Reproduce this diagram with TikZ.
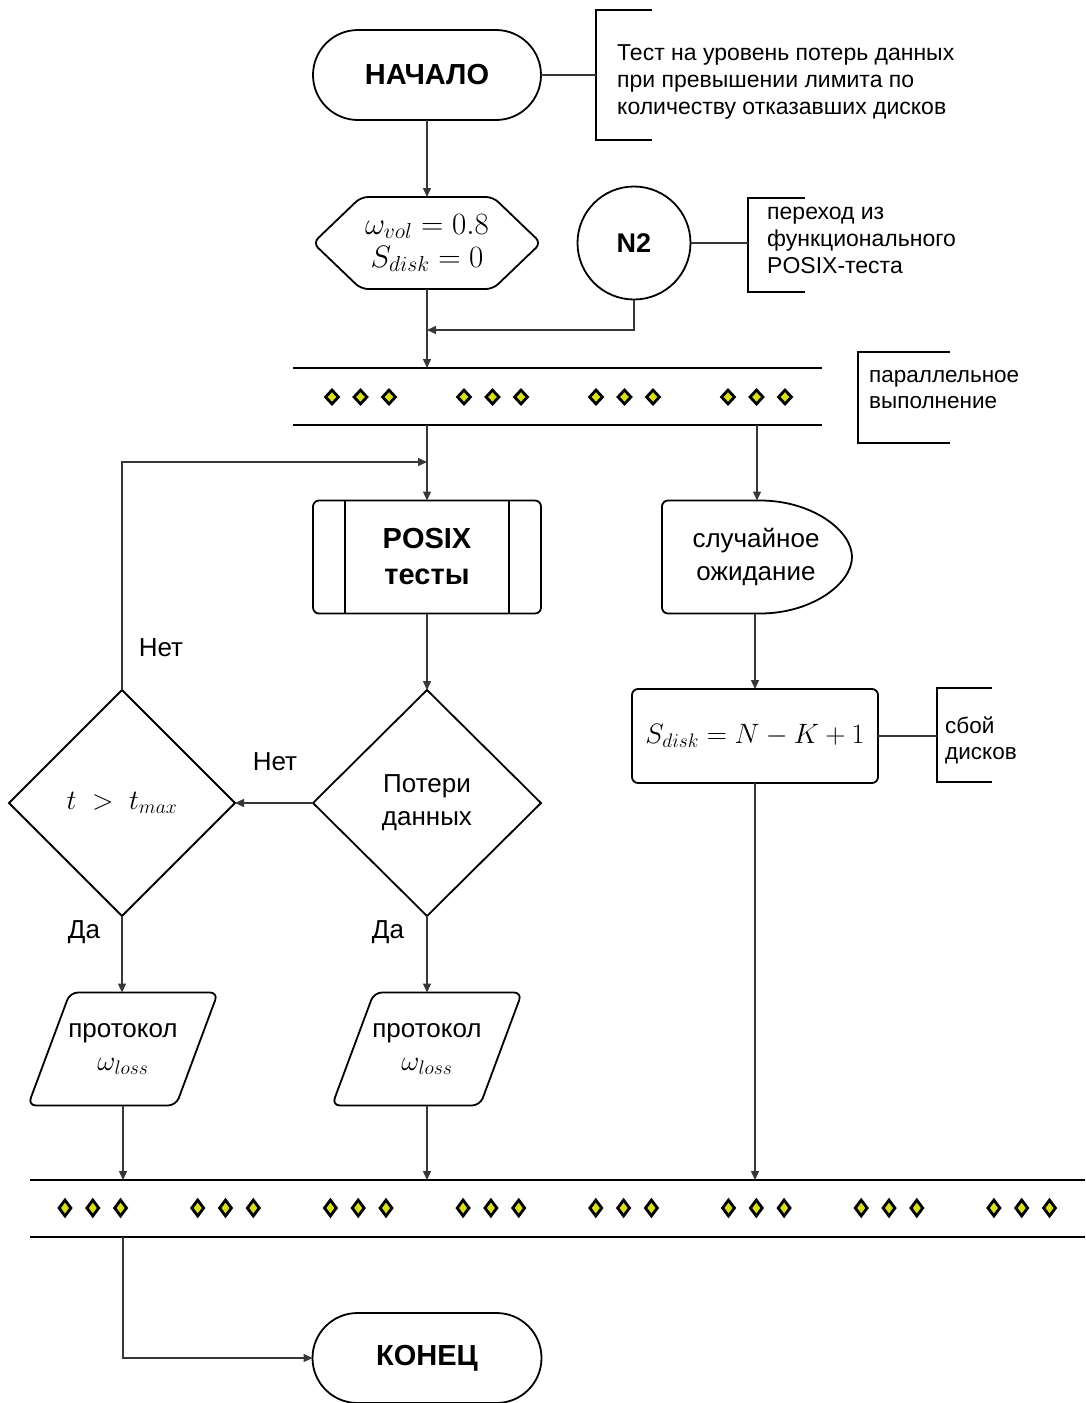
\RequirePackage{fix-cm}
\documentclass[tikz,border=0pt]{standalone}
\usepackage{fontspec}
\setmainfont{Liberation Sans}
\usetikzlibrary{shapes.misc,shapes.geometric,arrows.meta,calc}
\definecolor{dotfill}{RGB}{214,222,30}
\definecolor{conn}{RGB}{55,55,55}
\begin{document}
\begin{tikzpicture}[x=1pt,y=-1pt,
  shp/.style={draw=black, line width=1.8pt},
  conline/.style={draw=conn, line width=1.4pt},
  arr/.style={conline, -{Triangle[length=9pt,width=8pt]}},
  bar/.style={draw=black, line width=2.8pt},
  brk/.style={draw=black, line width=2.2pt},
  body/.style={font=\fontsize{26}{33}\selectfont, align=center, inner sep=0pt, outer sep=0pt},
  mathtxt/.style={font=\fontsize{28}{36}\selectfont, align=center, inner sep=0pt, outer sep=0pt},
  boldtxt/.style={font=\bfseries\fontsize{29}{36}\selectfont, align=center, inner sep=0pt, outer sep=0pt},
  ann/.style={font=\fontsize{23}{27}\selectfont, align=left, anchor=west, inner sep=0pt},
  anns/.style={font=\fontsize{22.5}{26}\selectfont, align=left, anchor=west, inner sep=0pt},
  lbl/.style={font=\fontsize{26}{30}\selectfont, inner sep=0pt},
  dotA/.style={diamond, draw=black, fill=dotfill, line width=2.8pt, minimum width=14pt, minimum height=15pt, inner sep=0pt},
  dotB/.style={diamond, draw=black, fill=dotfill, line width=2.8pt, minimum width=13pt, minimum height=17pt, inner sep=0pt},
  ghost/.style={inner sep=0pt, outer sep=0pt, draw=none}
]
\useasboundingbox (0,0) rectangle (1085,1403);

% ---- start
\node[shp, rounded rectangle, minimum width=228pt, minimum height=90pt, boldtxt] (start) at (427,75) {НАЧАЛО};
\draw[brk] (652,10) -- (596,10) -- (596,140) -- (652,140);
\coordinate (b1) at (596,75);
\draw[conline] (start.east) -- (b1 |- start.east);
\node[ann] (t1) at (617,82) {Тест на уровень потерь данных\\при превышении лимита по\\количеству отказавших дисков};

% ---- hexagon
\node[ghost, minimum width=228pt, minimum height=92pt, mathtxt, font=\fontsize{31}{33}\selectfont] (hex) at (427,243) {$\omega_{vol} = 0.8$\\$S_{disk} = 0$};
\draw[shp, rounded corners=7pt] (hex.west) -- ([xshift=48pt]hex.north west) -- ([xshift=-48pt]hex.north east) -- (hex.east) -- ([xshift=-48pt]hex.south east) -- ([xshift=48pt]hex.south west) -- cycle;

% ---- N2
\node[shp, circle, minimum size=113pt, boldtxt, font=\bfseries\fontsize{27}{30}\selectfont] (n2) at (634,243) {N2};
\draw[brk] (805,198) -- (748,198) -- (748,292) -- (805,292);
\coordinate (b2) at (748,243);
\draw[conline] (n2.east) -- (b2);
\node[ann] (t2) at (767,240) {переход из\\функционального\\POSIX-теста};

% ---- fork 1
\node[ghost, minimum width=529pt, minimum height=57pt] (fork1) at (557.5,396.5) {};
\draw[bar] (fork1.north west) -- (fork1.north east);
\draw[bar] (fork1.south west) -- (fork1.south east);
\foreach \g in {0,...,3}
  \foreach \k in {0,1,2}
    \node[dotA] (pa\g\k) at ({332+132*\g+28.5*\k},397) {};
\draw[brk] (950,352) -- (858,352) -- (858,443) -- (950,443);
\node[anns] (t3) at (869,390) {параллельное\\выполнение};

\draw[arr] (start.south) -- (hex.north);
\draw[arr] (hex.south) -- (hex.south |- fork1.north);
\coordinate (m1) at (427,330);
\draw[arr] (n2.south) |- (m1);

% ---- POSIX tests
\node[shp, rectangle, rounded corners=6pt, minimum width=228pt, minimum height=113pt, boldtxt] (posix) at (427,557) {POSIX\\тесты};
\draw[shp] ([xshift=32pt]posix.north west) -- ([xshift=32pt]posix.south west);
\draw[shp] ([xshift=-32pt]posix.north east) -- ([xshift=-32pt]posix.south east);

% ---- delay
\node[ghost, minimum width=190pt, minimum height=113pt] (delay) at (757,557) {};
\node[body] (delaytxt) at (756,557) {случайное\\ожидание};
\draw[shp] ([xshift=98pt]delay.north west) -- ([xshift=6pt]delay.north west) arc[start angle=90, end angle=180, radius=6pt] -- ([yshift=6pt]delay.south west) arc[start angle=180, end angle=270, radius=6pt] -- ([xshift=98pt]delay.south west) .. controls ([xshift=-40pt,yshift=0pt]delay.south east) and ([yshift=30pt]delay.south east) .. (delay.east) .. controls ([yshift=-30pt]delay.north east) and ([xshift=-40pt]delay.north east) .. ([xshift=98pt]delay.north west) -- cycle;

\draw[arr] (posix.north |- fork1.south) -- (posix.north);
\draw[arr] (delay.north |- fork1.south) -- (delay.north);

% ---- decisions
\node[shp, diamond, minimum width=228pt, minimum height=226pt, inner sep=0pt, body] (d1) at (427,803) {Потери\\данных};
\node[shp, diamond, minimum width=226pt, minimum height=226pt, inner sep=0pt, mathtxt] (d2) at (122,803) {$t\ >\ t_{max}$};

\draw[arr] (posix.south) -- (d1.north);
\draw[arr] (d1.west) -- (d2.east);
\node[lbl] (no1) at (275,762) {Нет};
\coordinate (m2) at (427,462);
\draw[arr] (d2.north) |- (m2);
\node[lbl] (no2) at (161,648) {Нет};

% ---- S_disk
\node[shp, rectangle, rounded corners=6pt, minimum width=246pt, minimum height=94pt, mathtxt] (sdisk) at (755,736) {$S_{disk} = N - K + 1$};
\draw[arr] (sdisk.north |- delay.south) -- (sdisk.north);
\draw[brk] (992,688) -- (937,688) -- (937,782) -- (992,782);
\coordinate (b4) at (937,736);
\draw[conline] (sdisk.east) -- (b4);
\node[anns] (t4) at (945,740) {сбой\\дисков};

% ---- IO
\node[ghost, minimum width=190pt, minimum height=113pt, body] (io1) at (123,1049) {протокол\\{\fontsize{28}{30}\selectfont$\omega_{loss}$}};
\draw[shp, rounded corners=8pt] ([xshift=42pt]io1.north west) -- (io1.north east) -- ([xshift=-42pt]io1.south east) -- (io1.south west) -- cycle;
\node[ghost, minimum width=190pt, minimum height=113pt, body] (io2) at (427,1049) {протокол\\{\fontsize{28}{30}\selectfont$\omega_{loss}$}};
\draw[shp, rounded corners=8pt] ([xshift=42pt]io2.north west) -- (io2.north east) -- ([xshift=-42pt]io2.south east) -- (io2.south west) -- cycle;

\draw[arr] (d2.south) -- (d2.south |- io1.north);
\draw[arr] (d1.south) -- (io2.north);
\node[lbl] (yes1) at (84,932) {Да};
\node[lbl] (yes2) at (388,932) {Да};

% ---- fork 2
\node[ghost, minimum width=1055pt, minimum height=57pt] (fork2) at (557.5,1208.5) {};
\draw[bar] (fork2.north west) -- (fork2.north east);
\draw[bar] (fork2.south west) -- (fork2.south east);
\foreach \g in {0,...,7}
  \foreach \k in {0,1,2}
    \node[dotB] (pb\g\k) at ({65+132.7*\g+27.8*\k},1208) {};

\draw[arr] (io1.south) -- (io1.south |- fork2.north);
\draw[arr] (io2.south) -- (io2.south |- fork2.north);
\draw[arr] (sdisk.south) -- (sdisk.south |- fork2.north);

% ---- end
\node[shp, rounded rectangle, minimum width=229pt, minimum height=90pt, boldtxt] (end) at (427,1358) {КОНЕЦ};
\draw[arr] (io1.south |- fork2.south) |- (end.west);
\end{tikzpicture}
\end{document}
